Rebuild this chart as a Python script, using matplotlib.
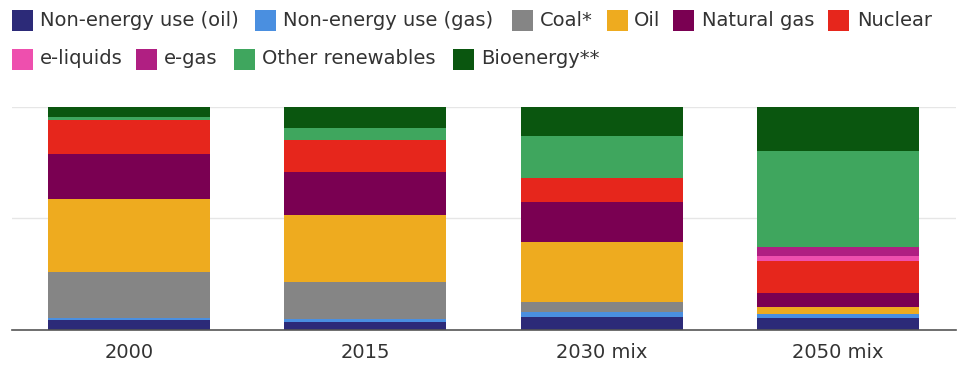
import numpy as np
import matplotlib.pyplot as plt
from matplotlib.patches import Rectangle

# Share of primary energy by source (%), stacked bottom to top
periods = ['2000', '2015', '2030 mix', '2050 mix']

non_energy_oil = [4.5, 3.7, 6.0, 5.5]
non_energy_gas = [1.0, 1.2, 2.2, 1.6]
coal = [20.6, 16.7, 4.5, 0.0]
oil = [32.5, 29.9, 26.6, 3.3]
natural_gas = [20.0, 19.1, 17.9, 6.3]
nuclear = [15.4, 14.5, 10.7, 14.2]
e_liquids = [0.0, 0.0, 0.0, 2.2]
e_gas = [0.0, 0.0, 0.0, 4.2]
other_renewables = [1.5, 5.5, 19.0, 42.8]
bioenergy = [4.5, 9.4, 13.1, 19.9]

stack = [
    ('Non-energy use (oil)', non_energy_oil, '#2c2a78'),
    ('Non-energy use (gas)', non_energy_gas, '#4a8fe0'),
    ('Coal*', coal, '#858585'),
    ('Oil', oil, '#eeab1f'),
    ('Natural gas', natural_gas, '#7a0052'),
    ('Nuclear', nuclear, '#e6261c'),
    ('e-liquids', e_liquids, '#ee4fae'),
    ('e-gas', e_gas, '#b01f82'),
    ('Other renewables', other_renewables, '#3fa65e'),
    ('Bioenergy**', bioenergy, '#0a560f'),
]

plt.rcParams['font.family'] = ['DejaVu Sans']
text_color = '#333333'

fig = plt.figure(figsize=(9.59, 3.69), dpi=100)
ax = fig.add_axes([12 / 959, 1 - 330 / 369, 944 / 959, 223.5 / 369])

x = np.arange(len(periods))
bottom = np.zeros(len(periods))
for name, vals, color in stack:
    vals = np.array(vals)
    ax.bar(x, vals, bottom=bottom, width=0.686, color=color, linewidth=0, zorder=2)
    bottom += vals

ax.set_xlim(-0.495, 3.5)
ax.set_ylim(0, 100)
ax.set_yticks([50, 100])
ax.yaxis.grid(True, color='#e6e6e6', linewidth=1, zorder=0)
ax.tick_params(axis='y', left=False, labelleft=False)
ax.set_xticks(x)
ax.set_xticklabels(periods, fontsize=14, color=text_color)
ax.tick_params(axis='x', length=0, pad=9)
for side in ['top', 'right', 'left']:
    ax.spines[side].set_visible(False)
ax.spines['bottom'].set_color('#555555')
ax.spines['bottom'].set_linewidth(1.2)
ax.spines['bottom'].set_zorder(3)

# Legend laid out in two rows above the plot (pixel positions)
legend_rows = [
    (20, [(12, 40, 0), (255, 283, 1), (512, 540, 2), (607, 634, 3), (673, 702, 4), (828, 857, 5)]),
    (59, [(12, 40, 6), (136, 164, 7), (234, 262, 8), (453, 481, 9)]),
]
W, H = 959, 369
size = 21
for yc, items in legend_rows:
    for sq_x, tx_x, idx in items:
        name, _, color = stack[idx]
        fig.patches.append(Rectangle((sq_x / W, 1 - (yc + size / 2) / H), size / W, size / H,
                                     transform=fig.transFigure, color=color, linewidth=0))
        fig.text(tx_x / W, 1 - yc / H, name, fontsize=14, color=text_color,
                 ha='left', va='center')

fig.savefig('out.png', dpi=100)
